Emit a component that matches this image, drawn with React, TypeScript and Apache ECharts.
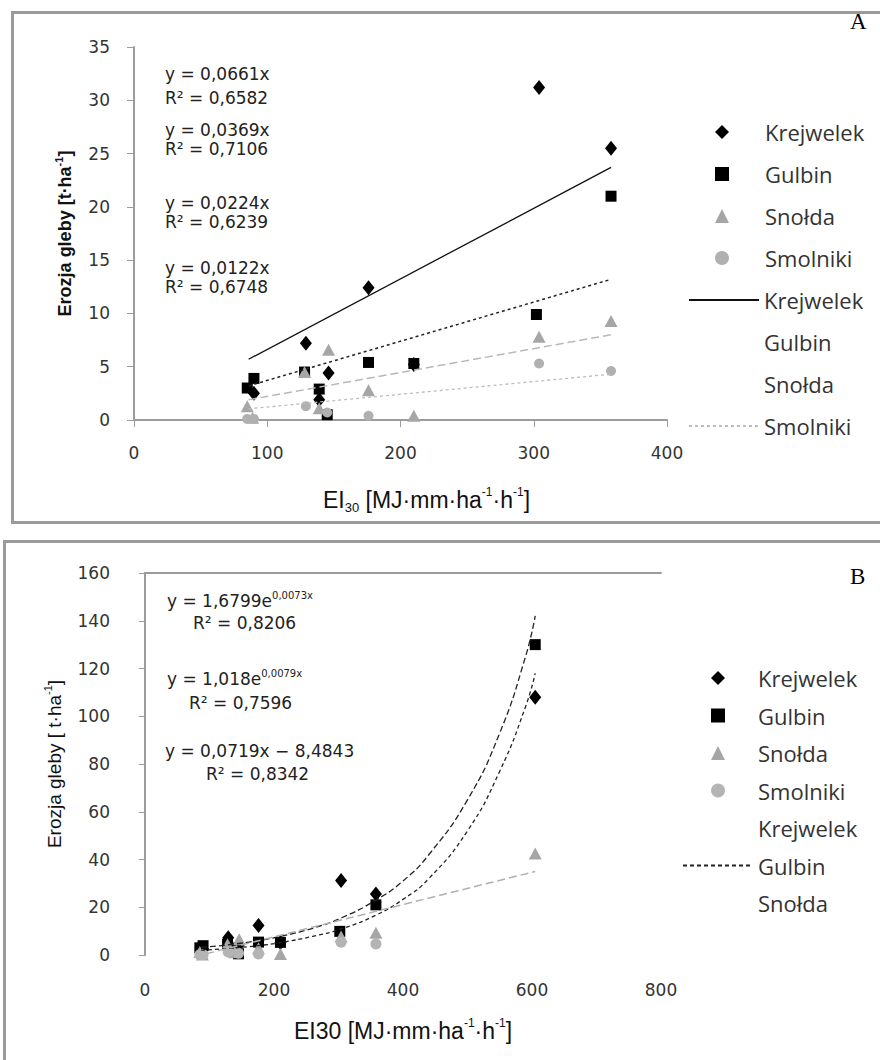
import React, { useEffect, useRef } from 'react';
import * as echarts from 'echarts';

// ---------- data ----------
const siteNames = ['Krejwelek', 'Gulbin', 'Snołda', 'Smolniki'];

// Chart A: [EI30, erosion]
const krejwelekA: [number, number][] = [[90, 2.5], [129, 7.2], [139, 1.9], [146, 4.4], [176, 12.4], [210, 5.2], [304, 31.2], [358, 25.5]];
const gulbinA: [number, number][] = [[85, 3.0], [90, 3.9], [128, 4.5], [139, 2.9], [145, 0.5], [176, 5.4], [210, 5.3], [302, 9.9], [358, 21.0]];
const snoldaA: [number, number][] = [[85, 1.3], [89, 0.2], [128, 4.5], [139, 1.1], [146, 6.6], [176, 2.8], [210, 0.4], [304, 7.8], [358, 9.3]];
const smolnikiA: [number, number][] = [[85, 0.1], [90, 0.1], [129, 1.3], [145, 0.7], [176, 0.4], [304, 5.3], [358, 4.6]];

// Chart B extra event
const krejwelekB: [number, number][] = [...krejwelekA, [605, 108]];
const gulbinB: [number, number][] = [...gulbinA, [605, 130]];
const snoldaB: [number, number][] = [...snoldaA, [605, 42.5]];
const smolnikiB: [number, number][] = [...smolnikiA];

// Trend lines, chart A (end points)
const trendXA = [86, 358];
const krejTrendA = [5.7, 23.7];
const gulbinTrendA = [3.2, 13.2];
const snoldaTrendA = [1.9, 8.0];
const smolTrendA = [1.05, 4.3];

// Trend curves, chart B
const trendXB = [87, 130, 175, 210, 260, 305, 358, 400, 440, 500, 550, 590, 605];
const krejTrendB = [3.2, 4.3, 6.0, 7.8, 11.2, 15.6, 23, 31, 42, 65, 93, 125, 142];
const gulbinTrendB = [2.0, 2.8, 3.9, 5.2, 7.8, 11, 16.7, 23.3, 32, 52, 77, 104, 118];
const snoldaTrendXB = [95, 605];
const snoldaTrendB = [0.5, 35];

const eqTextA = ['y = 0,0661x', 'R² = 0,6582', 'y = 0,0369x', 'R² = 0,7106', 'y = 0,0224x', 'R² = 0,6239', 'y = 0,0122x', 'R² = 0,6748'];
const eqTextB = ['y = 1,6799e{s|0,0073x}', 'R² = 0,8206', 'y = 1,018e{s|0,0079x}', 'R² = 0,7596', 'y = 0,0719x − 8,4843', 'R² = 0,8342'];

const xTicksA = { min: 0, max: 400, interval: 100 };
const yTicksA = { min: 0, max: 35, interval: 5 };
const xTicksB = { min: 0, max: 800, interval: 200 };
const yTicksB = { min: 0, max: 160, interval: 20 };

// ---------- styling ----------
const TICK_FONT = 'DejaVu Sans';
const TITLE_FONT = 'Liberation Sans';
const LEG_FONT = 'Open Sans';
const AXIS_GRAY = '#9c9c9c';

const labelMap: Record<string, string> = {};
['A', 'B'].forEach((p) => {
  ['K', 'G', 'S', 'M'].forEach((k, i) => {
    labelMap[`${p}_${k}`] = siteNames[i];
    labelMap[`${p}_${k}L`] = siteNames[i];
  });
});

const zip = (xs: number[], ys: number[]) => xs.map((x, i) => [x, ys[i]]);

const supStyle = (size: number, weight = 'normal') => ({
  fontFamily: TITLE_FONT, fontSize: size, fontWeight: weight, lineHeight: size, verticalAlign: 'top', color: '#111',
});
const subStyle = (size: number) => ({
  fontFamily: TITLE_FONT, fontSize: size, lineHeight: size, verticalAlign: 'bottom', color: '#111',
});

function buildOption() {
  const tickLabel = (margin: number) => ({ fontFamily: TICK_FONT, fontSize: 17, color: '#333', margin });
  const axLine = { show: true, lineStyle: { color: AXIS_GRAY, width: 2 } };

  const scatter = (name: string, ax: number, data: any, symbol: string, size: any, color: string) => ({
    type: 'scatter', name, xAxisIndex: ax, yAxisIndex: ax, data, symbol, symbolSize: size,
    itemStyle: { color, opacity: 1 }, z: 3,
  });
  const trend = (name: string, ax: number, data: any, color: string, width: number, type: any, smooth = false) => ({
    type: 'line', name, xAxisIndex: ax, yAxisIndex: ax, data, showSymbol: false, symbol: 'none', smooth,
    lineStyle: { color, width, type }, itemStyle: { color }, z: 4,
  });
  const lineItem = (name: string) => ({ name, itemStyle: { opacity: 0 } });
  const hidden = (name: string) => ({ name, itemStyle: { opacity: 0 }, lineStyle: { opacity: 0 } });

  const legText = (padLeft: number) => ({
    fontFamily: LEG_FONT, fontSize: 22, color: '#333', lineHeight: 22, padding: [0, 0, 0, padLeft],
  });
  const markerLegend = (left: number, top: number, gap: number, padLeft: number, data: any[]) => ({
    orient: 'vertical', left, top, itemWidth: 14, itemHeight: 14, itemGap: gap,
    selectedMode: false, formatter: (n: string) => labelMap[n], textStyle: legText(padLeft), data,
  });
  const lineLegend = (left: number, top: number, gap: number, data: any[]) => ({
    orient: 'vertical', left, top, itemWidth: 70, itemHeight: 14, itemGap: gap,
    selectedMode: false, formatter: (n: string) => labelMap[n], textStyle: legText(0), data,
  });

  const eqGraphicsA = eqTextA.map((t, i) => ({
    type: 'text', left: 165, top: [65, 89, 121, 140, 194, 213, 259, 278][i],
    style: { text: t, fontFamily: TICK_FONT, fontSize: 17, fill: '#222' },
  }));
  const eqPosB = [[167, 590], [193, 612], [167, 668], [189, 692], [165, 740], [206, 763]];
  const eqGraphicsB = eqTextB.map((t, i) => ({
    type: 'text', left: eqPosB[i][0], top: eqPosB[i][1],
    style: {
      text: t, fontFamily: TICK_FONT, fontSize: 17, fill: '#222', lineHeight: 22,
      rich: { s: { fontFamily: TICK_FONT, fontSize: 10, lineHeight: 10, verticalAlign: 'top', fill: '#222' } },
    },
  }));

  return {
    animation: false,
    backgroundColor: '#fff',
    grid: [
      { left: 134, top: 47, width: 533, height: 373, outerBoundsMode: 'none' },
      { left: 145, top: 573, width: 516, height: 382, outerBoundsMode: 'none' },
    ],
    xAxis: [
      {
        gridIndex: 0, type: 'value', ...xTicksA,
        axisLine: axLine, axisTick: { show: true, length: 7, lineStyle: { color: AXIS_GRAY } },
        axisLabel: tickLabel(24), splitLine: { show: false },
        name: 'EI{sub|30} [MJ·mm·ha{sup|-1}·h{sup|-1}]', nameLocation: 'middle', nameGap: 66,
        nameTextStyle: {
          fontFamily: TITLE_FONT, fontSize: 23, color: '#111', lineHeight: 28, padding: [0, 0, 0, 52],
          rich: { sup: supStyle(12), sub: subStyle(13) },
        },
      },
      {
        gridIndex: 1, type: 'value', ...xTicksB,
        axisLine: { show: false }, axisTick: { show: false },
        axisLabel: tickLabel(26), splitLine: { show: false },
        name: 'EI30 [MJ·mm·ha{sup|-1}·h{sup|-1}]', nameLocation: 'middle', nameGap: 62,
        nameTextStyle: {
          fontFamily: TITLE_FONT, fontSize: 23, color: '#111', lineHeight: 28,
          rich: { sup: supStyle(12) },
        },
      },
      {
        gridIndex: 1, type: 'value', position: 'top', ...xTicksB,
        axisLine: axLine, axisTick: { show: false }, axisLabel: { show: false }, splitLine: { show: false },
      },
    ],
    yAxis: [
      {
        gridIndex: 0, type: 'value', ...yTicksA,
        axisLine: axLine, axisTick: { show: true, length: 7, lineStyle: { color: AXIS_GRAY } },
        axisLabel: tickLabel(24), splitLine: { show: false },
        name: 'Erozja gleby [t·ha{sup|-1}]', nameLocation: 'middle', nameGap: 27,
        nameTextStyle: {
          fontFamily: TITLE_FONT, fontSize: 18, fontWeight: 'bold', color: '#111', lineHeight: 24,
          rich: { sup: supStyle(11, 'bold') },
        },
      },
      {
        gridIndex: 1, type: 'value', ...yTicksB,
        axisLine: axLine, axisTick: { show: true, length: 6, lineStyle: { color: AXIS_GRAY } },
        axisLabel: tickLabel(35), splitLine: { show: false },
        name: 'Erozja gleby [ t·ha{sup|-1}]', nameLocation: 'middle', nameGap: 38,
        nameTextStyle: {
          fontFamily: TITLE_FONT, fontSize: 19, color: '#111', lineHeight: 24,
          rich: { sup: supStyle(11) },
        },
      },
    ],
    legend: [
      markerLegend(710, 116, 20, 31, ['A_K', 'A_G', 'A_S', 'A_M']),
      lineLegend(683, 284, 20, [lineItem('A_KL'), hidden('A_GL'), hidden('A_SL'), lineItem('A_ML')]),
      markerLegend(706, 662, 15.5, 28, ['B_K', 'B_G', 'B_S', 'B_M']),
      lineLegend(677, 812, 15.5, [hidden('B_KL'), lineItem('B_GL'), hidden('B_SL')]),
    ],
    series: [
      scatter('A_K', 0, krejwelekA, 'diamond', [12, 15], '#000'),
      scatter('A_G', 0, gulbinA, 'rect', 11, '#000'),
      scatter('A_S', 0, snoldaA, 'triangle', [13, 12], '#a6a6a6'),
      scatter('A_M', 0, smolnikiA, 'circle', 10, '#b0b0b0'),
      trend('A_KL', 0, zip(trendXA, krejTrendA), '#111', 1.3, 'solid'),
      trend('A_GL', 0, zip(trendXA, gulbinTrendA), '#222', 1.5, [3, 3]),
      trend('A_SL', 0, zip(trendXA, snoldaTrendA), '#b8b8b8', 1.5, [8, 4]),
      trend('A_ML', 0, zip(trendXA, smolTrendA), '#bdbdbd', 1.3, [3, 3]),

      scatter('B_K', 1, krejwelekB, 'diamond', [12, 15], '#000'),
      scatter('B_G', 1, gulbinB, 'rect', 11, '#000'),
      scatter('B_S', 1, snoldaB, 'triangle', [13, 12], '#a6a6a6'),
      scatter('B_M', 1, smolnikiB, 'circle', 11, '#b4b4b4'),
      trend('B_KL', 1, zip(trendXB, krejTrendB), '#222', 1.3, [6, 3], true),
      trend('B_GL', 1, zip(trendXB, gulbinTrendB), '#222', 1.3, [4, 3], true),
      trend('B_SL', 1, zip(snoldaTrendXB, snoldaTrendB), '#b0b0b0', 1.5, [8, 4]),
    ],
    graphic: [
      { type: 'rect', shape: { x: 12.5, y: 12.5, width: 900, height: 510 }, style: { fill: 'none', stroke: '#9a9a9a', lineWidth: 3 }, z: 0 },
      { type: 'rect', shape: { x: 4.5, y: 541.5, width: 900, height: 600 }, style: { fill: 'none', stroke: '#9a9a9a', lineWidth: 3 }, z: 0 },
      { type: 'text', left: 850, top: 10, style: { text: 'A', fontFamily: 'Liberation Serif', fontSize: 23, fill: '#000' } },
      { type: 'text', left: 850, top: 565, style: { text: 'B', fontFamily: 'Liberation Serif', fontSize: 23, fill: '#000' } },
      ...eqGraphicsA,
      ...eqGraphicsB,
    ],
  };
}

export default function App() {
  const ref = useRef<HTMLDivElement>(null);
  useEffect(() => {
    document.body.style.margin = '0';
    const chart = echarts.init(ref.current!, null, { renderer: 'svg' });
    chart.setOption(buildOption() as any);
    return () => chart.dispose();
  }, []);
  return <div ref={ref} style={{ width: 880, height: 1060 }} />;
}
